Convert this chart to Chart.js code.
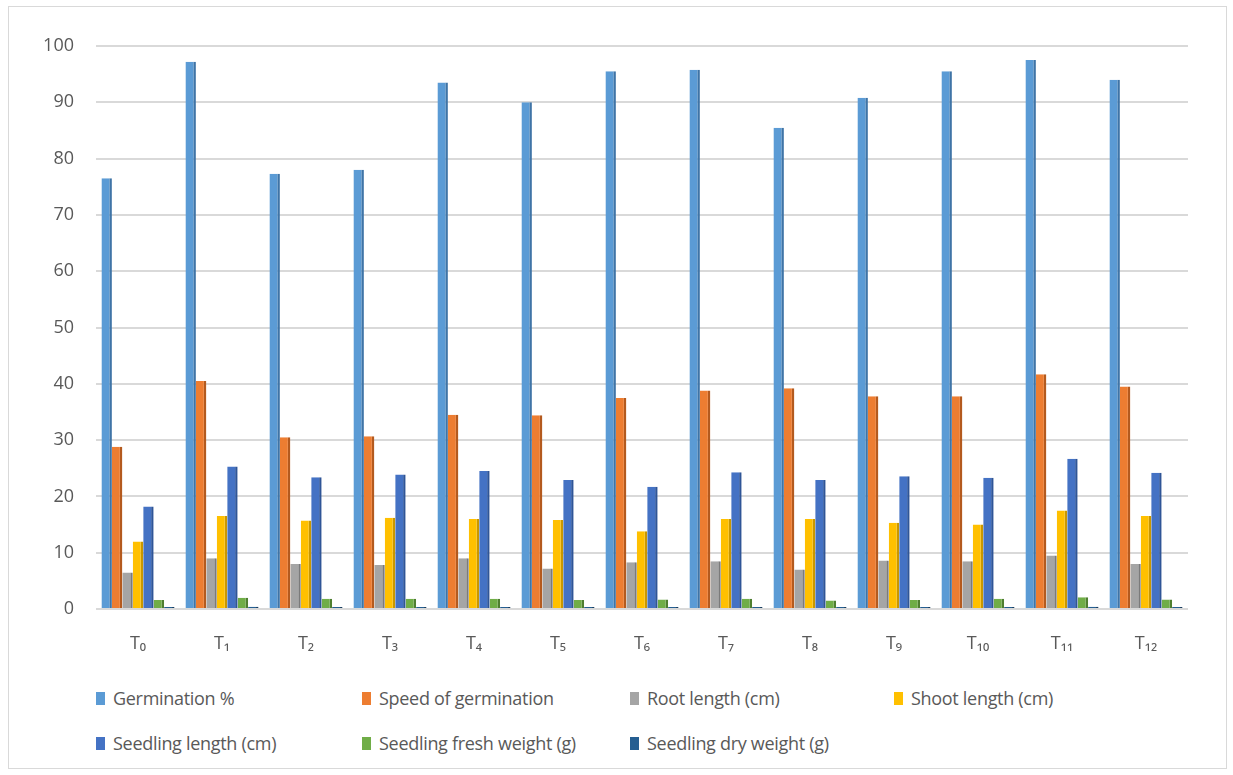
<!DOCTYPE html>
<html>
<head>
<meta charset="utf-8">
<script src="https://cdn.jsdelivr.net/npm/chart.js@4.4.1/dist/chart.umd.min.js"></script>
<style>
  html, body { margin: 0; padding: 0; background: #fff; }
  body { width: 1233px; height: 775px; position: relative; overflow: hidden; font-family: "Open Sans", "Noto Sans", sans-serif; }
  #frame { position: absolute; left: 8px; top: 6px; width: 1219px; height: 763px; border: 1px solid #d9d9d9; box-sizing: border-box; }
  #wrap { position: absolute; left: 0; top: 0; width: 1233px; height: 665px; }
  #legend { position: absolute; left: 96px; top: 684px; display: grid; grid-template-columns: 266px 268px 264px 280px; row-gap: 17px; }
  .item { display: flex; align-items: center; font-size: 18px; color: #595959; height: 28px; white-space: nowrap; letter-spacing: -0.3px; }
  .box { width: 9px; height: 13px; margin-right: 8px; }
</style>
</head>
<body>
<div id="frame"></div>
<div id="wrap"><canvas id="chart"></canvas></div>
<div id="legend"></div>
<script>
// categories (subscript labels)
const categories = ['T₀', 'T₁', 'T₂', 'T₃', 'T₄', 'T₅', 'T₆', 'T₇', 'T₈', 'T₉', 'T₁₀', 'T₁₁', 'T₁₂'];
const yTicks = [0, 10, 20, 30, 40, 50, 60, 70, 80, 90, 100];

// series values
const germination  = [76.5, 97.2, 77.3, 78.0, 93.5, 90.0, 95.5, 95.8, 85.5, 90.8, 95.5, 97.5, 94.0];
const speedGerm    = [28.8, 40.5, 30.5, 30.7, 34.5, 34.4, 37.5, 38.8, 39.2, 37.8, 37.8, 41.7, 39.5];
const rootLength   = [6.5, 9.0, 8.0, 7.8, 9.0, 7.2, 8.3, 8.5, 7.0, 8.6, 8.5, 9.5, 8.0];
const shootLength  = [12.0, 16.5, 15.7, 16.2, 16.0, 15.8, 13.8, 16.0, 16.0, 15.3, 15.0, 17.5, 16.5];
const seedLength   = [18.2, 25.3, 23.4, 23.9, 24.5, 22.9, 21.7, 24.3, 22.9, 23.6, 23.3, 26.7, 24.2];
const freshWeight  = [1.6, 2.0, 1.8, 1.8, 1.8, 1.6, 1.7, 1.8, 1.5, 1.6, 1.8, 2.1, 1.7];
const dryWeight    = [0.35, 0.4, 0.35, 0.35, 0.35, 0.35, 0.35, 0.35, 0.35, 0.35, 0.35, 0.4, 0.35];

const seriesNames = ['Germination %', 'Speed of germination', 'Root length (cm)', 'Shoot length (cm)',
  'Seedling length (cm)', 'Seedling fresh weight (g)', 'Seedling dry weight (g)'];
const seriesData = [germination, speedGerm, rootLength, shootLength, seedLength, freshWeight, dryWeight];
const colors = ['#5B9BD5', '#ED7D31', '#A5A5A5', '#FFC000', '#4472C4', '#70AD47', '#255E91'];
const sides  = ['#3F74A6', '#B45A1E', '#7B7B7B', '#C99700', '#2F5597', '#4E7E30', '#173C5E'];

const datasets = seriesNames.map((name, i) => ({
  label: name,
  data: seriesData[i],
  backgroundColor: colors[i],
  borderColor: sides[i],
  borderWidth: { top: 0, left: 0, bottom: 0, right: 2.5 },
  borderSkipped: false,
  categoryPercentage: 0.87,
  barPercentage: 1.0
}));

const tickFont = { size: 18, family: '"Open Sans", "Noto Sans", sans-serif' };

const chart = new Chart(document.getElementById('chart'), {
  type: 'bar',
  data: { labels: categories, datasets },
  options: {
    responsive: true,
    maintainAspectRatio: false,
    animation: false,
    layout: { padding: { top: 46, right: 45, bottom: 0, left: 0 } },
    plugins: { legend: { display: false }, tooltip: { enabled: false } },
    scales: {
      x: {
        grid: { display: false },
        border: { display: false },
        ticks: { color: '#595959', font: tickFont, padding: 16 },
        afterFit: s => { s.height = 56; }
      },
      y: {
        min: 0, max: 100,
        afterBuildTicks: s => { s.ticks = yTicks.map(v => ({ value: v })); },
        grid: { color: '#d9d9d9', lineWidth: 2, drawTicks: false },
        border: { display: false },
        ticks: { color: '#595959', font: tickFont, padding: 22 },
        afterFit: s => { s.width = 96; }
      }
    }
  }
});

// legend from the datasets
const legendEl = document.getElementById('legend');
chart.data.datasets.forEach(ds => {
  const item = document.createElement('div');
  item.className = 'item';
  const box = document.createElement('span');
  box.className = 'box';
  box.style.background = ds.backgroundColor;
  item.appendChild(box);
  item.appendChild(document.createTextNode(ds.label));
  legendEl.appendChild(item);
});
</script>
</body>
</html>
